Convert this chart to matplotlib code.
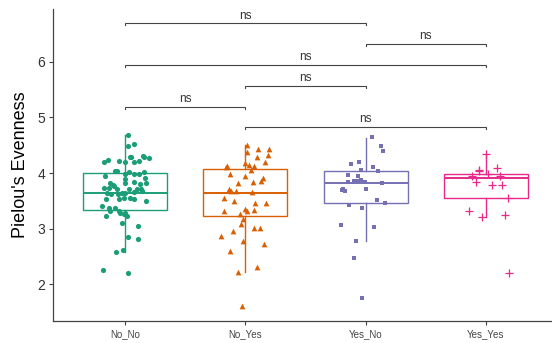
import numpy as np
import matplotlib
matplotlib.use('Agg')
import matplotlib.pyplot as plt
from matplotlib import rcParams

rcParams.update({
    'font.family': ['Liberation Sans', 'DejaVu Sans'],
    'axes.spines.top': False, 'axes.spines.right': False,
})

# Dark2 palette, one colour per group
COLS = ['#1B9E77', '#D95F02', '#7570B3', '#E7298A']
MARKERS = ['o', '^', 's', '+']

groups = ['No_No', 'No_Yes', 'Yes_No', 'Yes_Yes']

# Pielou's evenness per sample
vals_nono = [4.685, 4.52, 4.49, 4.24, 4.20, 4.21, 4.19, 4.28, 4.28, 4.31, 4.28, 4.27,
             4.22, 4.19, 4.04, 4.03, 4.01, 3.99, 4.01, 3.98, 3.98, 3.95, 3.90, 3.92,
             3.82, 3.79, 3.73, 3.76, 3.82, 3.84, 3.80, 3.82, 3.73, 3.72, 3.72, 3.71,
             3.67, 3.64, 3.62, 3.63, 3.65, 3.64, 3.66, 3.71, 3.50, 3.53, 3.53, 3.55,
             3.56, 3.54, 3.41, 3.38, 3.38, 3.31, 3.31, 3.26, 3.22, 3.22, 3.29, 3.28,
             3.10, 3.05, 2.85, 2.82, 2.575, 2.61, 2.26, 2.20]
vals_noyes = [4.505, 4.43, 4.43, 4.38, 4.33, 4.28, 4.19, 4.18, 4.15, 4.13, 4.11, 4.13,
              4.06, 3.98, 3.94, 3.91, 3.86, 3.84, 3.82, 3.71, 3.68, 3.67, 3.56, 3.66,
              3.47, 3.46, 3.49, 3.32, 3.35, 3.32, 3.34, 3.26, 3.18, 3.08, 2.87, 2.96,
              3.02, 3.02, 2.78, 2.72, 2.60, 2.23, 2.31, 1.61]
vals_yesno = [4.64, 4.49, 4.40, 4.16, 4.19, 4.10, 4.03, 4.06, 3.97, 3.95, 3.88, 3.84,
              3.85, 3.86, 3.84, 3.82, 3.72, 3.68, 3.70, 3.72, 3.52, 3.47, 3.42, 3.37,
              3.07, 3.03, 2.77, 2.47, 1.75]
vals_yesyes = [4.34, 4.06, 4.09, 3.95, 4.03, 3.98, 3.94, 3.84, 3.78, 3.79, 3.56, 3.32,
               3.21, 3.25, 2.20]

# horizontal jitter of each sample around its group
jit_nono = [0.024, 0.070, 0.021, -0.146, -0.179, -0.055, -0.002, 0.039, 0.045, 0.152, 0.158, 0.197,
            0.114, 0.075, -0.083, -0.069, 0.036, 0.070, 0.155, 0.003, 0.114, -0.166, 0.0, 0.169,
            -0.127, -0.102, -0.135, -0.091, 0.001, 0.070, 0.125, 0.172, -0.179, -0.069, 0.028, 0.097,
            0.139, -0.152, -0.116, -0.061, -0.022, 0.003, 0.070, 0.133, 0.175, -0.157, -0.05, -0.013,
            0.042, 0.070, -0.193, -0.132, -0.083, -0.130, -0.055, -0.013, 0.014, -0.157, 0.003, -0.041,
            -0.025, 0.111, 0.025, 0.103, -0.080, -0.019, -0.185, 0.020]
jit_noyes = [0.014, 0.103, 0.197, 0.014, 0.188, 0.097, 0.161, 0.0, 0.028, -0.152, -0.163, 0.069,
             0.047, -0.124, -0.006, 0.147, 0.130, 0.061, -0.064, -0.136, -0.119, -0.080, -0.180, 0.055,
             0.172, 0.080, -0.097, -0.174, 0.0, 0.014, 0.069, -0.047, -0.019, -0.033, -0.202, -0.102,
             0.069, 0.119, -0.022, 0.152, -0.130, -0.064, 0.097, -0.025]
jit_yesno = [0.050, 0.127, 0.146, -0.125, -0.056, 0.063, 0.102, -0.039, -0.147, -0.067, -0.042, -0.006,
             -0.100, -0.061, -0.144, 0.135, -0.188, -0.172, -0.199, 0.005, 0.097, 0.160, -0.136, -0.033,
             -0.208, 0.066, -0.081, -0.094, -0.033]
jit_yesyes = [0.0, -0.061, 0.094, -0.114, -0.056, 0.019, 0.121, -0.084, 0.049, 0.138, 0.185, -0.139,
              -0.034, 0.163, 0.190]

# box summaries: lower whisker, Q1, median, Q3, upper whisker
whislo = [2.59, 2.23, 2.78, 3.21]
q1 = [3.33, 3.22, 3.46, 3.56]
med = [3.65, 3.65, 3.83, 3.92]
q3 = [4.00, 4.08, 4.03, 3.98]
whishi = [4.68, 4.50, 4.63, 4.34]

# pairwise comparisons (1-based group index) and their labels
pairs = [(1, 3), (3, 4), (1, 4), (2, 3), (1, 2), (2, 4)]
pair_labels = ['ns', 'ns', 'ns', 'ns', 'ns', 'ns']
bracket_y = [6.69, 6.32, 5.94, 5.57, 5.19, 4.83]

vals = [vals_nono, vals_noyes, vals_yesno, vals_yesyes]
jits = [jit_nono, jit_noyes, jit_yesno, jit_yesyes]

fig = plt.figure(figsize=(5.52, 3.43), dpi=100)
ax = fig.add_axes([0.096, 0.064, 0.904, 0.91])

pos = np.arange(1, len(groups) + 1)
for i, c in enumerate(COLS):
    st = [dict(whislo=whislo[i], q1=q1[i], med=med[i], q3=q3[i], whishi=whishi[i], fliers=[])]
    ax.bxp(st, positions=[pos[i]], widths=0.7, showcaps=False, showfliers=False,
           patch_artist=True,
           boxprops=dict(facecolor='none', edgecolor=c, lw=1.0),
           whiskerprops=dict(color=c, lw=1.0),
           medianprops=dict(color=c, lw=1.4))
    x = pos[i] + np.array(jits[i])
    if MARKERS[i] == '+':
        ax.scatter(x, vals[i], marker='+', s=38, color=c, lw=0.9, zorder=3)
    else:
        s = {'o': 14, '^': 17, 's': 12}[MARKERS[i]]
        ax.scatter(x, vals[i], marker=MARKERS[i], s=s, color=c, lw=0, zorder=3)

# significance brackets
for (a, b), lab, y in zip(pairs, pair_labels, bracket_y):
    ax.plot([a, a, b, b], [y - 0.035, y, y, y - 0.035], color='#444444', lw=0.8,
            solid_joinstyle='miter')
    ax.text((a + b) / 2, y + 0.03, lab, ha='center', va='bottom', fontsize=8.5,
            color='#333333')

ax.set_xlim(0.4, 4.55)
ax.set_ylim(1.34, 6.95)
ax.set_xticks(pos)
ax.set_xticklabels(groups, fontsize=7, color='#444444')
ax.set_yticks([2, 3, 4, 5, 6])
ax.set_yticklabels(['2', '3', '4', '5', '6'], fontsize=10, color='#333333')
ax.tick_params(length=3, width=0.8, color='#444444', pad=2.5)
for sp in ('left', 'bottom'):
    ax.spines[sp].set_color('#444444')
    ax.spines[sp].set_linewidth(0.9)
ax.set_ylabel("Pielou's Evenness", fontsize=13, labelpad=6)

fig.savefig('out.png', dpi=100)
